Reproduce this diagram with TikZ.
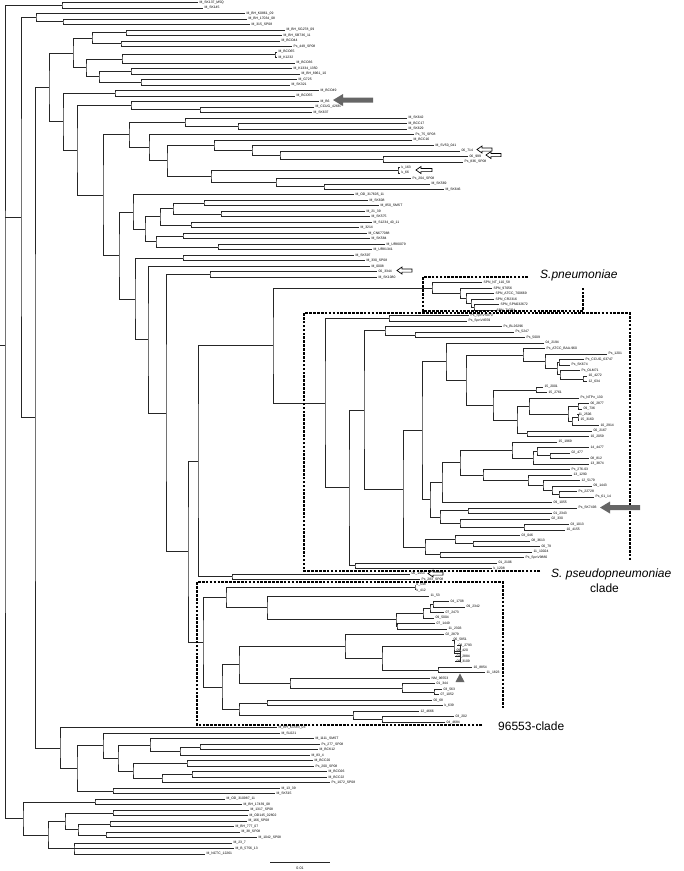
\documentclass[tikz,border=0pt]{standalone}
\usepackage{fontspec}
\setmainfont{Liberation Sans}
\usetikzlibrary{calc}
\newcommand\lf[4]{\node[leaf] (#1) at (#2,{2.5+5.494*(#3-1)}) {\detokenize{#4}};}
\newcommand\nd[4]{\path let \p1=(#3), \p2=(#4) in (#2pt,{0.5*(\y1+\y2)}) coordinate (#1);
  \draw[br] (#3) -| (#1) |- (#4);}
\newcommand\garrow[3]{\fill[garr] (#1,#3) -- ({#1+10},{#3-6}) -- ({#1+10},{#3-2.5}) -- (#2,{#3-2.5}) -- (#2,{#3+2.5}) -- ({#1+10},{#3+2.5}) -- ({#1+10},{#3+6}) -- cycle;}
\newcommand\oarrow[3]{\draw[oarr] (#1,#3) -- ({#1+5},{#3-3.5}) -- ({#1+5},{#3-1.6}) -- (#2,{#3-1.6}) -- (#2,{#3+1.6}) -- ({#1+5},{#3+1.6}) -- ({#1+5},{#3+3.5}) -- cycle;}
\tikzset{
  leaf/.style={anchor=west,inner xsep=1.4pt,inner ysep=0.2pt,font=\fontsize{3.4}{4}\selectfont},
  br/.style={line width=0.6pt,draw=black!85},
  clbox/.style={line width=1.1pt,dash pattern=on 2.6pt off 1.3pt},
  garr/.style={fill=black!60},
  oarr/.style={line width=0.7pt,fill=white,draw=black},
  biglab/.style={anchor=base west,font=\fontsize{12}{14}\selectfont,inner sep=0pt}
}
\begin{document}
\begin{tikzpicture}[x=1pt,y=-1pt]
\useasboundingbox (0,0) rectangle (684,871);
% ---------- leaves ----------
\lf{a1}{198}{1}{M_SK137_M5Q}
\lf{a2}{203}{2}{M_SK145}
\lf{a3}{245}{3}{M_BH_K0861_09}
\lf{a4}{247}{4}{M_BH_17034_08}
\lf{a5}{250}{5}{M_315_SP08}
\lf{a6}{285}{6}{M_BH_SG278_09}
\lf{a7}{282}{7}{M_BH_SB736_11}
\lf{a8}{280}{8}{M_BCO44}
\lf{a9}{292}{9}{Ps_449_SP08}
\lf{a10}{277}{10}{M_BCO65}
\lf{a11}{277}{11}{M_K1232}
\lf{a12}{295}{12}{M_BCO36}
\lf{a13}{292}{13}{M_K1334_1350}
\lf{a14}{300}{14}{M_BH_8961_10}
\lf{a15}{297}{15}{M_G725}
\lf{a16}{290}{16}{M_SK321}
\lf{a17}{319}{17}{M_BCO49}
\lf{a18}{295}{18}{M_BCO55}
\lf{a19}{319}{19}{M_B6}
\lf{a20}{314}{20}{M_CCUG_42687}
\lf{a21}{312}{21}{M_SK637}
\lf{a22}{407}{22}{M_SK642}
\lf{a23}{407}{23}{M_BCC17}
\lf{a24}{407}{24}{M_SK629}
\lf{a25}{414}{25}{Ps_75_SP08}
\lf{a26}{412}{26}{M_BCC16}
\lf{a27}{434}{27}{M_SV50_041}
\lf{a28}{460}{28}{06_714}
\lf{a29}{468}{29}{06_999}
\lf{a30}{463}{30}{Ps_836_SP08}
\lf{a31}{400}{31}{k_163}
\lf{a32}{400}{32}{k_66}
\lf{a33}{411}{33}{Ps_204_SP08}
\lf{a34}{430}{34}{M_SK569}
\lf{a35}{444}{35}{M_SK646}
\lf{a36}{354}{36}{M_OD_317605_11}
\lf{a37}{368}{37}{M_SK608}
\lf{a38}{379}{38}{M_850_SMST}
\lf{a39}{365}{39}{M_21_39}
\lf{a40}{370}{40}{M_SK575}
\lf{a41}{372}{41}{M_S1234_40_11}
\lf{a42}{359}{42}{M_3214}
\lf{a43}{367}{43}{M_CN677088}
\lf{a44}{370}{44}{M_SK584}
\lf{a45}{385}{45}{M_UR80079}
\lf{a46}{372}{46}{M_UR81341}
\lf{a47}{354}{47}{M_SK597}
\lf{a48}{365}{48}{M_330_SP08}
\lf{a49}{370}{49}{M_0008}
\lf{a50}{377}{50}{00_3344}
\lf{a51}{377}{51}{M_SK1080}
\lf{p1}{482}{52}{SPN_NT_110_58}
\lf{p2}{492}{53}{SPN_97056}
\lf{p3}{494}{54}{SPN_ATCC_700669}
\lf{p4}{494}{55}{SPN_CR2316}
\lf{p5}{499}{56}{SPN_SPN032672}
\lf{p6}{495}{57}{SPN_TIGR4}
\lf{q1}{469}{58}{Ps_SpnVS070}
\lf{q2}{467}{59}{Ps_SpnV4559}
\lf{q3}{502}{60}{Ps_BL26296}
\lf{q4}{514}{61}{Ps_5247}
\lf{q5}{525}{62}{Ps_5009}
\lf{q6}{544}{63}{04_2194}
\lf{q7}{545}{64}{Ps_ATCC_BAA-960}
\lf{q8}{607}{65}{Ps_1201}
\lf{q9}{584}{66}{Ps_CCUG_63747}
\lf{q10}{570}{67}{Ps_SK674}
\lf{q11}{580}{68}{Ps_OLM71}
\lf{q12}{587}{69}{10_4272}
\lf{q13}{587}{70}{12_634}
\lf{q14}{543}{71}{15_2001}
\lf{q15}{547}{72}{15_2761}
\lf{q16}{579}{73}{Ps_NTPn_130}
\lf{q17}{589}{74}{06_2877}
\lf{q18}{582}{75}{09_736}
\lf{q19}{577}{76}{11_2506}
\lf{q20}{579}{77}{15_3160}
\lf{q21}{599}{78}{10_2914}
\lf{q22}{592}{79}{00_2167}
\lf{q23}{589}{80}{10_2059}
\lf{q24}{557}{81}{15_1969}
\lf{q25}{589}{82}{14_4477}
\lf{q26}{570}{83}{02_477}
\lf{q27}{589}{84}{08_812}
\lf{q28}{589}{85}{13_3874}
\lf{q29}{570}{86}{Ps_276-03}
\lf{q30}{572}{87}{13_1290}
\lf{q31}{580}{88}{12_5179}
\lf{q32}{592}{89}{09_1443}
\lf{q33}{577}{90}{Ps_22728}
\lf{q34}{594}{91}{Ps_61_14}
\lf{q35}{552}{92}{09_1055}
\lf{q36}{577}{93}{Ps_SK7493}
\lf{q37}{552}{94}{01_2343}
\lf{q38}{550}{95}{02_330}
\lf{q39}{569}{96}{03_1013}
\lf{q40}{565}{97}{10_4155}
\lf{q41}{520}{98}{03_046}
\lf{q42}{530}{99}{08_3613}
\lf{q43}{540}{100}{00_79}
\lf{q44}{532}{101}{11_10024}
\lf{q45}{524}{102}{Ps_SpnV9880}
\lf{q46}{497}{103}{01_2106}
\lf{q47}{492}{104}{k_1208}
\lf{r1}{410}{105}{06_1453}
\lf{r2}{420}{106}{Ps_283_SP08}
\lf{v1}{415}{107}{k_548}
\lf{v2}{415}{108}{k_412}
\lf{v3}{429}{109}{11_53}
\lf{v4}{449}{110}{04_1708}
\lf{v5}{465}{111}{09_2342}
\lf{v6}{444}{112}{07_2473}
\lf{v7}{434}{113}{09_5004}
\lf{v8}{435}{114}{07_1449}
\lf{v9}{447}{115}{11_2303}
\lf{v10}{444}{116}{02_2879}
\lf{v11}{452}{117}{06_5851}
\lf{v12}{457}{118}{09_2793}
\lf{v13}{455}{119}{09_420}
\lf{v14}{455}{120}{02_2884}
\lf{v15}{455}{121}{09_3109}
\lf{v16}{472}{122}{10_8854}
\lf{v17}{485}{123}{11_1823}
\lf{v18}{430}{124}{NM_96553}
\lf{v19}{435}{125}{01_344}
\lf{v20}{442}{126}{03_563}
\lf{v21}{439}{127}{07_1052}
\lf{v22}{432}{128}{00_68}
\lf{v23}{443}{129}{k_639}
\lf{v24}{419}{130}{12_4666}
\lf{v25}{454}{131}{03_202}
\lf{v26}{445}{132}{04_4684}
\lf{b1}{277}{133}{M_BH_K1583_03}
\lf{b2}{280}{134}{M_SL021}
\lf{b3}{314}{135}{M_1111_SMST}
\lf{b4}{320}{136}{Ps_277_SP08}
\lf{b5}{318}{137}{M_BCK12}
\lf{b6}{310}{138}{M_83_4}
\lf{b7}{313}{139}{M_BCC20}
\lf{b8}{314}{140}{Ps_200_SP08}
\lf{b9}{327}{141}{M_BCO26}
\lf{b10}{327}{142}{M_BCC22}
\lf{b11}{330}{143}{Ps_1072_SP08}
\lf{b12}{280}{144}{M_13_39}
\lf{b13}{275}{145}{M_SK515}
\lf{b14}{225}{146}{M_OD_310987_11}
\lf{b15}{242}{147}{M_BH_17439_08}
\lf{b16}{249}{148}{M_1317_SP08}
\lf{b17}{248}{149}{M_OD145_02802}
\lf{b18}{247}{150}{M_166_SP08}
\lf{b19}{234}{151}{M_BH_777_07}
\lf{b20}{240}{152}{M_38_SP08}
\lf{b21}{257}{153}{M_1042_SP08}
\lf{b22}{232}{154}{M_23_7}
\lf{b23}{234}{155}{M_B_5756_13}
\lf{b24}{205}{156}{M_NCTC_12261}
% ---------- upper part ----------
\nd{c1}{62}{a1}{a2}
\nd{A1b}{63}{a4}{a5}
\nd{A1}{36}{a3}{A1b}
\nd{t1a}{126}{a6}{a7}
\nd{t1b}{121}{a8}{a9}
\nd{t1}{92}{t1a}{t1b}
\nd{c4}{275}{a10}{a11}
\nd{c4p}{122}{c4}{a12}
\nd{t3a}{131}{a13}{a14}
\nd{t3b}{141}{a15}{a16}
\nd{t3}{99}{t3a}{t3b}
\nd{t2}{86}{c4p}{t3}
\nd{T0}{73}{t1}{t2}
\nd{c6}{115}{a17}{a18}
\nd{c7}{200}{a20}{a21}
\nd{n131}{131}{a19}{c7}
\nd{c8a}{238}{a23}{a24}
\nd{c8}{185}{a22}{c8a}
\nd{n9a}{383}{a29}{a30}
\nd{n9b}{280}{a28}{n9a}
\nd{n9c}{252}{a27}{n9b}
\nd{n9d}{214}{a26}{n9c}
\nd{n10k}{398}{a31}{a32}
\nd{n10e}{324}{a34}{a35}
\nd{n10f}{276}{a33}{n10e}
\nd{n10g}{211}{n10k}{n10f}
\nd{n167}{167}{n9d}{n10g}
\nd{n149}{149}{a25}{n167}
\nd{n129}{129}{c8}{n149}
\nd{c11}{204}{a37}{a38}
\nd{c12}{221}{a39}{a40}
\nd{n173}{173}{c11}{c12}
\nd{c13}{191}{a41}{a42}
\nd{n160}{160}{n173}{c13}
\nd{p183}{183}{a43}{a44}
\nd{c14}{218}{a45}{a46}
\nd{n156}{156}{p183}{c14}
\nd{n145}{145}{n160}{n156}
\nd{n133}{133}{a36}{n145}
\nd{p183b}{183}{a47}{a48}
\nd{c15}{210}{a50}{a51}
% ---------- S. pneumoniae ----------
\nd{s5}{474}{p5}{p6}
\nd{s4}{471}{p4}{s5}
\nd{s3}{466}{p3}{s4}
\nd{s2}{460}{p2}{s3}
\nd{s1}{432}{p1}{s2}
% ---------- S. pseudopneumoniae ----------
\nd{qp}{389}{q1}{q2}
\nd{qbl2}{415}{q4}{q5}
\nd{qbl}{385}{q3}{qbl2}
\nd{nB}{583}{q12}{q13}
\nd{nC}{560}{q11}{nB}
\nd{nA}{559}{q9}{q10}
\nd{nD}{557}{nA}{nC}
\nd{nE}{545}{q8}{nD}
\nd{nF}{523}{q7}{nE}
\nd{n9}{536}{q14}{q15}
\nd{n1}{578}{q17}{q18}
\nd{n2}{578}{q19}{q20}
\nd{n3}{572}{n2}{q21}
\nd{n4}{568}{n1}{n3}
\nd{n5}{529}{q16}{n4}
\nd{n6}{527}{q22}{q23}
\nd{n7}{517}{n5}{n6}
\nd{n8}{493}{n9}{n7}
\nd{nNb}{466}{nF}{n8}
\nd{nNa}{446}{q6}{nNb}
\nd{nq1}{550}{q26}{q27}
\nd{nq2}{537}{q25}{nq1}
\nd{nq3}{533}{nq2}{q28}
\nd{nq4}{512}{q24}{nq3}
\nd{nq5b}{559}{q33}{q34}
\nd{nq5}{552}{q32}{nq5b}
\nd{nq6}{543}{q31}{nq5}
\nd{nq7}{528}{q30}{nq6}
\nd{nq8}{483}{q29}{nq7}
\nd{nq9}{460}{nq4}{nq8}
\nd{nq10}{442}{nq9}{q35}
\nd{nr1}{468}{q36}{q37}
\nd{nr2}{524}{q39}{q40}
\nd{nr3}{460}{q38}{nr2}
\nd{nr4}{440}{nr1}{nr3}
\nd{nr5}{430}{nq10}{nr4}
\nd{nT}{422}{nNa}{nr5}
\nd{nl1}{473}{q42}{q43}
\nd{nl2}{455}{q41}{nl1}
\nd{nl3}{440}{q44}{q45}
\nd{nL1}{425}{nl2}{nl3}
\nd{nT2}{403}{nT}{nL1}
\nd{q3n}{364}{qbl}{nT2}
\nd{qlow}{355}{q46}{q47}
\nd{q2n}{349}{q3n}{qlow}
\nd{pr}{325}{qp}{q2n}
\nd{SP}{273}{s1}{pr}
\nd{rr}{232}{r1}{r2}
\nd{n198}{198}{SP}{rr}
% ---------- 96553 clade ----------
\nd{k1}{415}{v1}{v2}
\nd{g1}{433}{v4}{v5}
\nd{g2}{430}{g1}{v6}
\nd{g3}{423}{g2}{v7}
\nd{g4}{397}{v8}{v9}
\nd{g5}{396}{g3}{g4}
\nd{n267}{267}{v3}{g5}
\nd{n226}{226}{k1}{n267}
\nd{h1}{460}{v12}{v15}
\draw[br] (h1) |- (v13);
\draw[br] (h1) |- (v14);
\nd{h2}{454}{v11}{h1}
\nd{h3}{438}{v16}{v17}
\nd{h4}{382}{h2}{h3}
\nd{h5}{345}{v10}{h4}
\nd{i1}{434}{v20}{v21}
\nd{i2}{402}{v19}{i1}
\nd{m2}{290}{v18}{i2}
\nd{m1}{239}{h5}{m2}
\nd{m4}{267}{v22}{v23}
\nd{j1}{382}{v25}{v26}
\nd{j2}{353}{v24}{j1}
\nd{m3}{239}{m4}{j2}
\nd{w1b}{222}{m1}{m3}
\nd{w1}{203}{n226}{w1b}
% ---------- joining the upper part ----------
\nd{n188}{188}{n198}{w1}
\nd{n166}{166}{c15}{n188}
\nd{n148}{148}{a49}{n166}
\nd{n135}{135}{p183b}{n148}
\nd{n119}{119}{n133}{n135}
\nd{n103}{103}{n129}{n119}
\nd{n77}{77}{n131}{n103}
\nd{n63}{63}{c6}{n77}
\nd{A2a}{49}{T0}{n63}
% ---------- M group below the 96553 clade ----------
\nd{bq1}{192}{b9}{b10}
\nd{bq2}{162}{bq1}{b11}
\nd{bq3}{187}{b7}{b8}
\nd{bq4}{133}{bq3}{bq2}
\nd{bq5}{200}{b4}{b5}
\nd{bq6}{180}{bq5}{b6}
\nd{bq7}{150}{b3}{bq6}
\nd{bq8}{118}{bq7}{bq4}
\nd{n103b}{103}{b2}{bq8}
\nd{be1}{113}{b12}{b13}
\nd{n77b}{77}{n103b}{be1}
\nd{nBB}{60}{b1}{n77b}
\nd{A2}{35}{A2a}{nBB}
\nd{A}{21}{A1}{A2}
% ---------- bottom group ----------
\nd{z95}{95}{b14}{b15}
\nd{be2}{113}{b16}{b17}
\nd{be3}{110}{b18}{b19}
\nd{be4}{106}{b20}{b21}
\nd{n78}{78}{be3}{be4}
\nd{n65}{65}{be2}{n78}
\nd{n74}{74}{b22}{b24}
\draw[br] (n74) |- (b23);
\nd{n48}{48}{n65}{n74}
\nd{Z}{23}{z95}{n48}
% ---------- root ----------
\nd{rootv}{5}{c1}{Z}
\draw[br] (A) -- (A -| rootv);
\coordinate (rs) at (5,345.5);
\coordinate (rs0) at (0,345.5);
\draw[br] (rs) -- (rs0);
% ---------- clade boxes ----------
\draw[clbox] (528,277) -- (423,277) -- (423,311) -- (583,311) -- (583,287);
\draw[clbox] (540,571) -- (304,571) -- (304,313) -- (630,313) -- (630,560);
\draw[clbox] (482,725) -- (197,725) -- (197,582) -- (503,582) -- (503,708);
\node[biglab] (lspn) at (540,278) {\itshape S.pneumoniae};
\node[biglab] (lpseudo) at (551,577) {\itshape S. pseudopneumoniae};
\node[biglab] (lclade) at (590,592) {clade};
\node[biglab] (l96553) at (498,730) {96553-clade};
% ---------- markers ----------
\garrow{333}{373}{100}
\garrow{600}{640}{507.5}
\oarrow{477}{492}{149.5}
\oarrow{486}{501}{155}
\oarrow{416}{432}{170}
\oarrow{397}{412}{270.5}
\oarrow{428}{443}{573.5}
\fill[black!60] (460,673.5) -- (464.5,682) -- (455.5,682) -- cycle;
% ---------- scale bar ----------
\coordinate (sb1) at (270,862);
\coordinate (sb2) at (330,862);
\draw[br] (sb1) -- (sb2);
\node[font=\fontsize{3.6}{4}\selectfont,inner sep=0pt] (sbl) at (300,868) {0.01};
\end{tikzpicture}
\end{document}
